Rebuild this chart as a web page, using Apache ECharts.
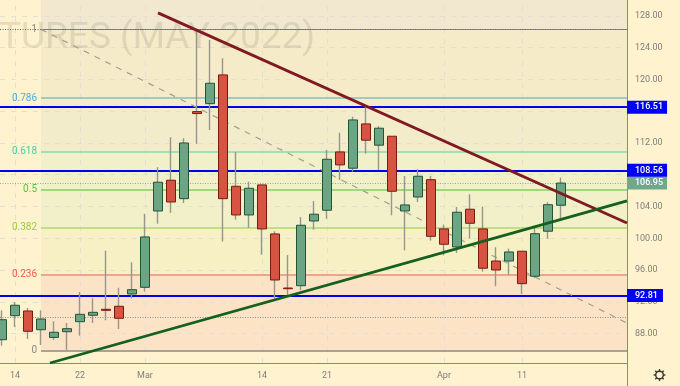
<!DOCTYPE html>
<html><head><meta charset="utf-8">
<style>html,body{margin:0;padding:0;background:#FFF2CF}#c{width:680px;height:386px}</style>
<script src="https://cdn.jsdelivr.net/npm/echarts@6/dist/echarts.min.js"></script></head>
<body><div id="c"></div>
<script>
// index, open, close, low, high
const candles = [
[0,87.23,89.75,86.48,90.93],[1,90.26,91.57,88.83,91.98],[2,90.85,88.29,87.32,91.23],[3,88.49,89.84,86.57,90.93],
[4,87.52,88.17,87.2,89.55],[5,88.24,88.62,85.94,89.34],[6,89.5,90.43,87.74,93.24],[7,90.31,90.68,89.34,92.45],
[8,91.06,90.93,89.68,98.44],[9,91.44,89.93,88.58,93.78],[10,92.99,93.53,92.45,96.98],[11,93.83,100.17,93.28,103.07],
[12,103.44,107.06,101.84,108.95],[13,107.31,104.57,103.19,112.72],[14,104.99,112.0,104.45,112.6],[15,115.95,115.7,111.88,126.24],
[16,116.95,119.52,113.64,124.98],[17,120.57,104.99,99.6,122.67],[18,106.55,102.94,102.35,110.87],[19,102.94,106.3,101.3,107.13],
[20,106.72,101.18,97.94,106.72],[21,100.55,94.75,92.45,100.89],[22,93.74,93.65,92.7,97.9],[23,94.03,101.64,93.45,102.69],
[24,102.18,103.03,101.09,104.7],[25,103.53,109.95,102.47,111.12],[26,110.87,109.24,107.35,113.3],[27,108.82,114.9,108.39,115.32],
[28,114.4,112.35,110.66,116.54],[29,111.72,113.86,108.6,114.11],[30,112.85,105.92,102.9,112.85],[31,103.44,104.2,98.49,107.85],
[32,105.2,107.81,104.57,108.69],[33,107.38,100.25,99.7,107.85],[34,101.18,99.25,97.86,101.72],[35,98.91,103.28,98.15,103.95],
[36,103.66,101.89,99.95,105.54],[37,101.18,96.23,95.8,103.98],[38,97.14,96.01,93.96,98.87],[39,97.14,98.28,95.42,98.69],
[40,98.37,94.29,92.99,98.37],[41,95.22,100.58,94.99,101.3],[42,100.89,104.23,99.92,104.54],[43,104.16,106.95,102.22,107.64]
];
const xTickIndex = [1,6,11,20,25,34,40];
const xTickLabels = ['14','22','Mar','14','21','Apr','11'];
const yTicks = [88,92,96,100,104,112,120,124,128];
const yGrid = [88,92,96,100,104,108,112,116,120,124,128];
const fibRatios = ['1','0.786','0.618','0.5','0.382','0.236','0'];
const fibPrices = [126.3,117.65,110.87,106.1,101.33,95.43,85.9];
const fibLabelColors = ['#8a8a85','#4FA9DC','#3FD2A2','#4FC63F','#9CCC3C','#EF5B50','#8a8a85'];
const fibLineColors = ['#8a8a85','#84BFC4','#84DBB2','#84CF62','#AFD86C','#E58F7E','#8a8a85'];
const fibBandColors = ['#F2E8D0','#F6EBC8','#F3ECCB','#F1F0C8','#F1F0C8','#F6F0C4','#FCE3C6'];
const levels = [116.51,108.56,92.81];
const lastPrice = 106.95;
const dottedLevels = [126.3,90.05];
const downLine = [[12,128.38],[48.08,101.93]];
const upLine = [[3.69,84.3],[48.08,104.7]];
const fibDiagonal = [[3,126.3],[48.08,89.33]];

const XMIN=-0.154, XMAX=48.08, YMIN=84.3, YMAX=130.0, FIB_X=3;
const font='Roboto';

function bodies(){return candles.map(c=>[c[0],c[1],c[2],Math.min(c[1],c[2]),Math.max(c[1],c[2])]);}
function hLine(p,x0){return [{coord:[x0,p]},{coord:[XMAX,p]}];}
function blank(name,z,extra){
  if(extra.markLine) extra.markLine.z=z;
  if(extra.markArea) extra.markArea.z=z;
  return Object.assign({type:'line',name,data:[],z,silent:true,animation:false,symbol:'none'},extra);}
function gearTeeth(cx,cy,r0,r1){const out=[];for(let k=0;k<8;k++){const a=k*Math.PI/4;
  out.push({type:'line',silent:true,shape:{x1:cx+r0*Math.cos(a),y1:cy+r0*Math.sin(a),x2:cx+r1*Math.cos(a),y2:cy+r1*Math.sin(a)},style:{stroke:'#333',lineWidth:1.4}});}return out;}

const bandEdges=[YMAX].concat(fibPrices);
const tag=(text,bg,pr)=>({show:true,position:'end',distance:0,formatter:text,color:'#fff',backgroundColor:bg,
  padding:[3,pr,3,8],fontFamily:font,fontSize:9,lineHeight:7,fontWeight:500});
const series=[
 blank('bands',1,{markArea:{silent:true,animation:false,data:fibBandColors.map((col,i)=>[
   {xAxis:FIB_X,yAxis:bandEdges[i],itemStyle:{color:col,opacity:1}},{xAxis:XMAX,yAxis:bandEdges[i+1]}])}}),
 blank('gridlines',1.2,{markLine:{silent:true,animation:false,symbol:'none',label:{show:false},
   lineStyle:{color:'#E4DFD6',width:1,type:[5,6]},
   data:yGrid.map(p=>hLine(p,XMIN)).concat(xTickIndex.map(i=>[{coord:[i,YMIN]},{coord:[i,YMAX]}]))}}),
 blank('fib',1.5,{markLine:{silent:true,animation:false,symbol:'none',data:fibPrices.map((p,i)=>{
   const d=hLine(p,FIB_X);
   d[0].lineStyle={color:fibLineColors[i],width:(i===0?1:1.7),type:'solid',opacity:1};
   d[0].label={show:true,position:'start',formatter:fibRatios[i],color:fibLabelColors[i],fontFamily:font,fontSize:10,distance:4};
   return d;})}}),
 blank('dotted',1.6,{markLine:{silent:true,animation:false,symbol:'none',label:{show:false},data:dottedLevels.map((p,i)=>{
   const d=hLine(p,XMIN);d[0].lineStyle={color:i?'#8f8f88':'#66665f',width:1,type:[1,1.5]};return d;}).concat([
   (()=>{const d=hLine(lastPrice,XMIN);d[0].lineStyle={color:'#8FAF95',width:1,type:[1,1.5]};
     d[0].label=tag(lastPrice.toFixed(2),'#6FA88A',4);return d;})()])}}),
 blank('levels',3,{markLine:{silent:true,animation:false,symbol:'none',data:levels.map((p,i)=>{
   const d=hLine(p,XMIN);d[0].lineStyle={color:'#0000F0',width:2,type:'solid'};
   d[0].label=tag(p.toFixed(2),'#0000F5',i===2?5:4);return d;})}}),
 blank('diag',3.5,{data:fibDiagonal,lineStyle:{color:'#a39f92',width:1.2,type:[6,6]},clip:true}),
 {type:'candlestick',name:'wicks',z:4,silent:true,animation:false,barWidth:1,encode:{x:0,y:[1,2,3,4]},data:candles,
  itemStyle:{color:'#96968c',color0:'#96968c',borderColor:'#96968c',borderColor0:'#96968c',borderWidth:1.4}},
 {type:'candlestick',name:'bodies',z:4.5,silent:true,animation:false,barWidth:9,encode:{x:0,y:[1,2,3,4]},data:bodies(),
  itemStyle:{color:'#6BA583',color0:'#D75442',borderColor:'#225437',borderColor0:'#7A1A12',borderWidth:1}},
 blank('down',5,{data:downLine,lineStyle:{color:'#801922',width:2.8},clip:true}),
 blank('up',5,{data:upLine,lineStyle:{color:'#14601E',width:2.8},clip:true})
];

const chart=echarts.init(document.getElementById('c'),null,{renderer:'canvas'});
chart.setOption({
 animation:false,backgroundColor:'#FFF2CF',
 grid:{left:0,top:0,width:627,height:363,containLabel:false},
 xAxis:{type:'value',min:XMIN,max:XMAX,z:1.2,
  axisLine:{show:true,onZero:false,lineStyle:{color:'#8a8a85',width:1}},
  axisTick:{show:false,customValues:xTickIndex},
  axisLabel:{customValues:xTickIndex,margin:8,color:'#7f7f79',fontFamily:font,fontSize:9,showMinLabel:true,showMaxLabel:true,
   formatter:v=>xTickLabels[xTickIndex.indexOf(v)]||''},
  splitLine:{show:false}},
 yAxis:{type:'value',position:'right',min:YMIN,max:YMAX,z:1.2,
  axisLine:{show:true,onZero:false,lineStyle:{color:'#8a8a85',width:1}},
  axisTick:{show:false,customValues:yGrid},
  axisLabel:{customValues:yTicks,margin:8,color:'#7f7f79',fontFamily:font,fontSize:9,padding:[4,0,0,0],
   formatter:v=>v.toFixed(2)},
  splitLine:{show:false}},
 graphic:[
  {type:'text',left:-1,top:20,z:2,silent:true,style:{text:'TURES (MAY 2022)',font:'37px Roboto',fill:'rgba(110,105,95,0.17)'}},
  {type:'line',silent:true,shape:{x1:627.5,y1:363,x2:627.5,y2:386},style:{stroke:'#8a8a85',lineWidth:1}},
  {type:'circle',silent:true,shape:{cx:659.5,cy:375,r:3.8},style:{fill:'none',stroke:'#333',lineWidth:1.4}}
 ].concat(gearTeeth(659.5,375,4,5.9)),
 series
});
</script></body></html>
